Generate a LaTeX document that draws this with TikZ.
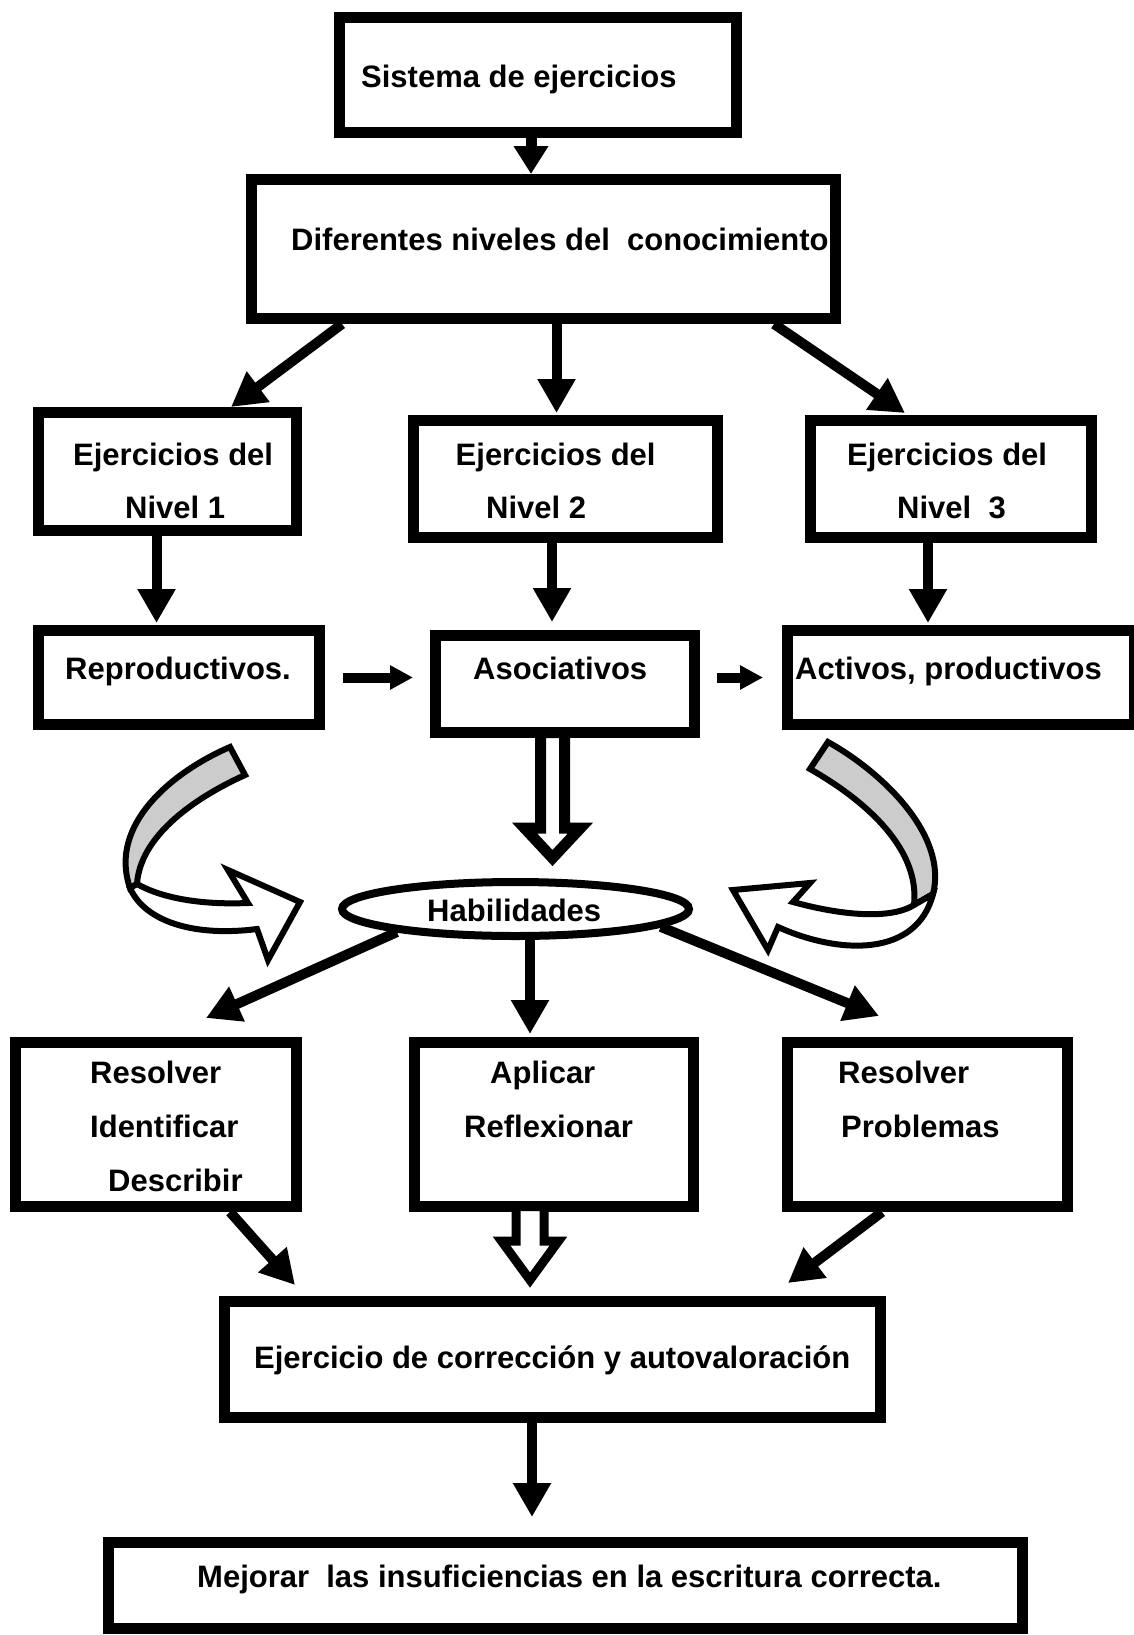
\documentclass[tikz,border=0pt]{standalone}
\usepackage{fontspec}
\setmainfont{Liberation Sans}
\usetikzlibrary{arrows.meta,shapes.geometric}
\begin{document}
\begin{tikzpicture}[x=1pt,y=-1pt,
  box/.style={draw,line width=11pt,rectangle,inner sep=0pt,fill=white},
  txt/.style={anchor=base west,inner sep=0pt,font=\fontsize{31}{37}\selectfont\bfseries},
  bigarr/.style={line width=10pt,-{Triangle[length=34pt,width=36pt]}},
  smallarr/.style={line width=10pt,-{Triangle[length=23pt,width=23pt]}},
  hollow/.style={draw,fill=white,line join=miter},
  curved/.style={draw,line width=6pt,line join=miter},
]
\useasboundingbox (0,0) rectangle (1134,1635);

% boxes
\node[box,minimum width=397pt,minimum height=115pt] (A) at (538,75) {};
\node[box,minimum width=584pt,minimum height=139pt] (B) at (543.5,249) {};
\node[box,minimum width=258pt,minimum height=118pt] (N1) at (167.5,471.5) {};
\node[box,minimum width=304pt,minimum height=117pt] (N2) at (565.5,479) {};
\node[box,minimum width=281pt,minimum height=117pt] (N3) at (951,479) {};
\node[box,minimum width=281pt,minimum height=94pt] (R) at (179,677.5) {};
\node[box,minimum width=259pt,minimum height=97pt] (As) at (565,684) {};
\node[box,minimum width=347pt,minimum height=94pt] (Ac) at (961,677.5) {};
\node[draw,ellipse,line width=8pt,inner sep=0pt,minimum width=347pt,minimum height=54pt,fill=white] (Hab) at (515.5,909) {};
\node[box,minimum width=281pt,minimum height=164pt] (Res) at (156,1124.5) {};
\node[box,minimum width=279pt,minimum height=164pt] (Apl) at (554,1124.5) {};
\node[box,minimum width=280pt,minimum height=164pt] (Prob) at (927.5,1124.5) {};
\node[box,minimum width=656pt,minimum height=116pt] (Ejer) at (552.5,1359.5) {};
\node[box,minimum width=914pt,minimum height=86pt] (Mej) at (565.5,1585.5) {};

% texts
\node[txt] (tA) at (361,88) {Sistema de ejercicios};
\node[txt] (tB) at (291,250) {Diferentes niveles del~ conocimiento};
\node[txt] (tN1a) at (73,465) {Ejercicios del};
\node[txt] (tN1b) at (125,518) {Nivel 1};
\node[txt] (tN2a) at (455.5,465) {Ejercicios del};
\node[txt] (tN2b) at (486,518) {Nivel 2};
\node[txt] (tN3a) at (847,465) {Ejercicios del};
\node[txt] (tN3b) at (897,518) {Nivel~ 3};
\node[txt] (tR) at (65,679) {Reproductivos.};
\node[txt] (tAs) at (473,679) {Asociativos};
\node[txt] (tAc) at (795,679) {Activos, productivos};
\node[txt] (tHab) at (427,921) {Habilidades};
\node[txt] (tRes1) at (90,1083) {Resolver};
\node[txt] (tRes2) at (90,1137) {Identificar};
\node[txt] (tRes3) at (108,1191) {Describir};
\node[txt] (tApl1) at (490,1083) {Aplicar};
\node[txt] (tApl2) at (464,1137) {Reflexionar};
\node[txt] (tProb1) at (838,1083) {Resolver};
\node[txt] (tProb2) at (841,1137) {Problemas};
\node[txt] (tEj) at (254,1368) {Ejercicio de corrección y autovaloración};
\node[txt] (tMej) at (197,1587) {Mejorar~ las insuficiencias en la escritura correcta.};

% straight arrows
\draw[line width=11pt,-{Triangle[length=28pt,width=33pt]}] ([xshift=-7pt]A.south) -- ([xshift=-12.5pt]B.north);
\draw[bigarr] ([xshift=-201.5pt]B.south) -- ([xshift=63.5pt]N1.north);
\draw[bigarr] ([xshift=13pt]B.south) -- ([xshift=-9pt,yshift=2pt]N2.north);
\draw[bigarr] ([xshift=230.5pt]B.south) -- ([xshift=-46pt,yshift=2pt]N3.north);
\draw[bigarr] ([xshift=-11pt]N1.south) -- ([xshift=-22.5pt,yshift=2pt]R.north);
\draw[bigarr] ([xshift=-13.5pt]N2.south) -- ([xshift=-13pt,yshift=8pt]As.north);
\draw[bigarr] ([xshift=-23pt]N3.south) -- ([xshift=-33pt,yshift=2pt]Ac.north);
\draw[smallarr] ([xshift=18pt]R.east) -- ([xshift=-17pt,yshift=6.5pt]As.west);
\draw[smallarr] ([xshift=17pt,yshift=6.5pt]As.east) -- ([xshift=-19pt]Ac.west);
\draw[bigarr] (Hab.191) -- ([xshift=50pt,yshift=19pt]Res.north);
\draw[bigarr] ([xshift=14.5pt]Hab.south) -- ([xshift=-24pt,yshift=3pt]Apl.north);
\draw[bigarr] (Hab.-7) -- ([xshift=-48.5pt,yshift=21pt]Prob.north);
\draw[bigarr] ([xshift=-72pt]Res.south east) -- ([xshift=76pt,yshift=11pt]Ejer.north west);
\draw[bigarr] ([xshift=-45.5pt]Prob.south) -- ([xshift=-98pt,yshift=13pt]Ejer.north east);
\draw[bigarr] ([xshift=-20.5pt]Ejer.south) -- ([xshift=-33.5pt,yshift=20pt]Mej.north);

% hollow arrows
\begin{scope}[shift={(As.south)}]
\draw[hollow,line width=11pt] (-24.5,-5.5) -- (-24.5,90) -- (-40.5,90) -- (-12.5,120) -- (15.5,90) -- (-0.5,90) -- (-0.5,-5.5) -- cycle;
\end{scope}
\begin{scope}[shift={(Apl.south)}]
\draw[hollow,line width=9pt] (-38,-5.5) -- (-38,29) -- (-52.5,29) -- (-24,68) -- (4.5,29) -- (-10,29) -- (-10,-5.5) -- cycle;
\end{scope}

% curved arrows
\draw[curved,fill=gray!40] (230,747) .. controls (172,772) and (108,825) .. (130,888) -- (137,884) .. controls (140,838) and (190,800) .. (245,775) -- cycle;
\draw[curved,fill=white] (137,884) .. controls (162,898) and (200,905) .. (248,903) -- (228,870) -- (300,902) -- (268,960) -- (257,929) .. controls (195,937) and (145,922) .. (130,888) -- cycle;
\draw[curved,fill=gray!40] (828,742) .. controls (882,772) and (948,835) .. (933,894) -- (914,905) .. controls (920,850) and (868,802) .. (810,769) -- cycle;
\draw[curved,fill=white] (914,905) .. controls (890,920) and (840,915) .. (793,902) -- (810,883) -- (733,890) -- (768,950) -- (778,927) .. controls (840,955) and (917,957) .. (933,894) -- cycle;
\end{tikzpicture}
\end{document}
